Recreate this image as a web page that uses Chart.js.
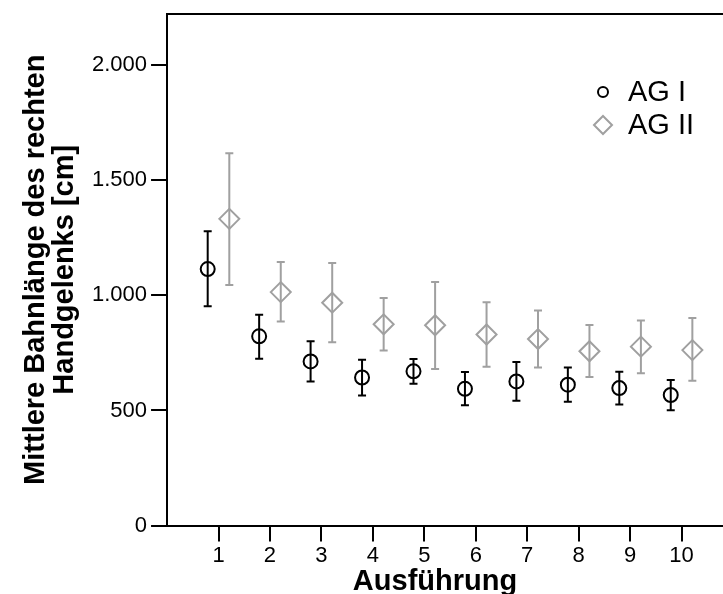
<!DOCTYPE html>
<html>
<head>
<meta charset="utf-8">
<script src="https://cdn.jsdelivr.net/npm/chart.js@4.4.1/dist/chart.umd.min.js"></script>
<style>
  html, body { margin: 0; padding: 0; background: #fff; overflow: hidden; }
</style>
</head>
<body>
<canvas id="chart" width="745" height="594"></canvas>
<script>
const groups = [1, 2, 3, 4, 5, 6, 7, 8, 9, 10];
const xTickLabels = ['1', '2', '3', '4', '5', '6', '7', '8', '9', '10'];
const yTicks = [0, 500, 1000, 1500, 2000];
const yTickLabels = ['0', '500', '1.000', '1.500', '2.000'];

const agIMean = [1114, 822, 713, 643, 670, 594, 626, 612, 597, 567];
const agILow  = [952, 725, 626, 565, 616, 523, 542, 538, 526, 501];
const agIHigh = [1278, 916, 800, 720, 723, 667, 710, 687, 668, 632];

const agIIMean = [1332, 1014, 968, 874, 870, 830, 810, 757, 777, 762];
const agIILow  = [1045, 886, 796, 760, 680, 690, 686, 645, 662, 629];
const agIIHigh = [1617, 1145, 1140, 988, 1058, 970, 934, 871, 891, 901];

const FONT = "'Liberation Sans', Arial, sans-serif";
const GREY = '#a0a0a0';

const errorBars = {
  id: 'errorBars',
  afterDatasetsDraw(chart) {
    const ctx = chart.ctx;
    const y = chart.scales.y;
    chart.data.datasets.forEach((ds, di) => {
      const meta = chart.getDatasetMeta(di);
      ctx.save();
      ctx.strokeStyle = ds.borderColor;
      ctx.lineWidth = 2;
      meta.data.forEach((pt, i) => {
        const top = y.getPixelForValue(ds.high[i]);
        const bot = y.getPixelForValue(ds.low[i]);
        ctx.beginPath();
        ctx.moveTo(pt.x, top);
        ctx.lineTo(pt.x, bot);
        ctx.moveTo(pt.x - 4, top);
        ctx.lineTo(pt.x + 4, top);
        ctx.moveTo(pt.x - 4, bot);
        ctx.lineTo(pt.x + 4, bot);
        ctx.stroke();
      });
      ctx.restore();
    });
  }
};

// legend in the upper right of the plot, x title under the axis
const extras = {
  id: 'extras',
  afterDraw(chart) {
    const ctx = chart.ctx;
    const rows = [{ y: 92, r: 5 }, { y: 125, r: 9 }];
    chart.data.datasets.forEach((ds, i) => {
      const cx = 603, cy = rows[i].y, r = rows[i].r;
      ctx.save();
      ctx.strokeStyle = ds.borderColor;
      ctx.lineWidth = 2;
      ctx.beginPath();
      if (ds.pointStyle === 'circle') {
        ctx.arc(cx, cy, r, 0, Math.PI * 2);
      } else {
        ctx.moveTo(cx - r, cy);
        ctx.lineTo(cx, cy - r);
        ctx.lineTo(cx + r, cy);
        ctx.lineTo(cx, cy + r);
        ctx.closePath();
      }
      ctx.stroke();
      ctx.fillStyle = '#000';
      ctx.font = '29px ' + FONT;
      ctx.textBaseline = 'middle';
      ctx.fillText(ds.label, 628, cy + 1);
      ctx.restore();
    });
    ctx.save();
    ctx.fillStyle = '#000';
    ctx.font = 'bold 29px ' + FONT;
    ctx.textAlign = 'center';
    ctx.textBaseline = 'alphabetic';
    ctx.fillText('Ausführung', 435, 590);
    ctx.restore();
  }
};

const data = {
  datasets: [
    {
      label: 'AG I',
      data: groups.map((g, i) => ({ x: g - 0.21, y: agIMean[i] })),
      low: agILow,
      high: agIHigh,
      pointStyle: 'circle',
      pointRadius: 7,
      borderColor: '#000',
      backgroundColor: 'rgba(0,0,0,0)',
      borderWidth: 2
    },
    {
      label: 'AG II',
      data: groups.map((g, i) => ({ x: g + 0.21, y: agIIMean[i] })),
      low: agIILow,
      high: agIIHigh,
      pointStyle: 'rectRot',
      pointRadius: 10,
      borderColor: GREY,
      backgroundColor: 'rgba(0,0,0,0)',
      borderWidth: 2
    }
  ]
};

const config = {
  type: 'scatter',
  data: data,
  plugins: [errorBars, extras],
  options: {
    responsive: false,
    animation: false,
    events: [],
    layout: { padding: { left: 9, top: 9, right: 10, bottom: 24 } },
    plugins: { legend: { display: false }, tooltip: { enabled: false } },
    scales: {
      x: {
        type: 'linear',
        position: 'bottom',
        min: 0,
        max: 11,
        afterBuildTicks: s => { s.ticks = groups.map(v => ({ value: v })); },
        ticks: {
          color: '#000',
          font: { family: FONT, size: 22 },
          padding: 1,
          maxRotation: 0,
          callback: (v, i) => xTickLabels[i]
        },
        grid: { drawOnChartArea: false, drawTicks: true, tickLength: 16, color: '#000', lineWidth: 2 },
        border: { color: '#000', width: 2 }
      },
      xTop: {
        type: 'linear',
        position: 'top',
        min: 0,
        max: 11,
        ticks: { display: false },
        grid: { display: false, drawTicks: false },
        border: { color: '#000', width: 2 }
      },
      y: {
        min: 0,
        max: 2222,
        afterBuildTicks: s => { s.ticks = yTicks.map(v => ({ value: v })); },
        ticks: {
          color: '#000',
          font: { family: FONT, size: 22, lineHeight: 0.9 },
          padding: 4,
          callback: (v, i) => yTickLabels[i]
        },
        grid: { drawOnChartArea: false, drawTicks: true, tickLength: 16, color: '#000', lineWidth: 2 },
        border: { color: '#000', width: 2 },
        title: {
          display: true,
          text: ['Mittlere Bahnlänge des rechten', 'Handgelenks [cm]'],
          color: '#000',
          font: { family: FONT, size: 29, weight: 'bold', lineHeight: 1.0 },
          padding: { top: 12, bottom: 9 }
        }
      }
    }
  }
};

new Chart(document.getElementById('chart'), config);
</script>
</body>
</html>
